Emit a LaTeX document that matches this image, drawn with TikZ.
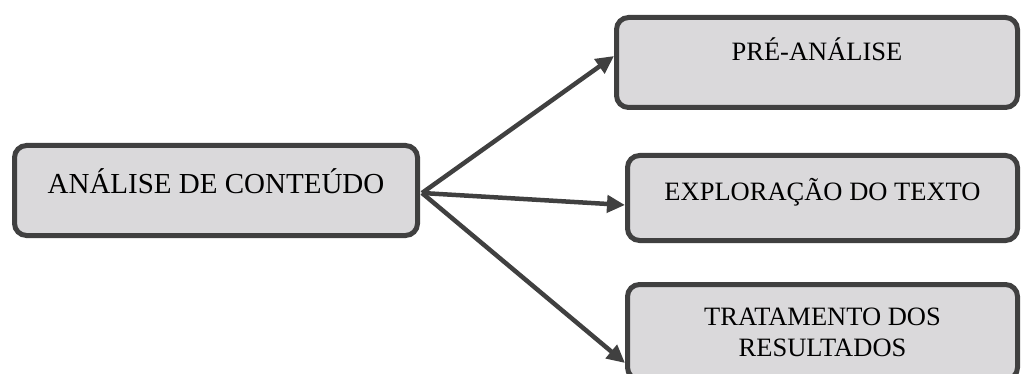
\documentclass[tikz,border=0pt]{standalone}
\usepackage{fontspec}
\setmainfont{Liberation Serif}
\usetikzlibrary{arrows.meta}
\definecolor{stageline}{HTML}{404040}
\definecolor{stagefill}{HTML}{DAD9DB}

\begin{document}
\begin{tikzpicture}[x=1pt,y=-1pt]
  \tikzset{StageBox/.style = {
      shape = rectangle,
      rounded corners = 12pt,
      draw = stageline,
      fill = stagefill,
      line width = 5pt,
      inner sep = 0pt,
      align = center,
      font = \fontsize{26.5}{31}\selectfont},
    StageArrow/.style = {
      draw = stageline,
      line width = 4.5pt,
      -{Triangle[length=18pt,width=17pt]}}}
  \useasboundingbox (0,0) rectangle (1022,374);
  %% main box
  \node[StageBox,minimum width=403pt,minimum height=90pt,
    text height=15.6pt,text depth=10pt,
    font=\fontsize{29}{34}\selectfont] (main) at (216,190.5)
    {ANÁLISE DE CONTEÚDO};
  %% stages
  \node[StageBox,minimum width=401pt,minimum height=90pt,
    text height=10.6pt,text depth=14pt] (pre) at (817,62.5)
    {PRÉ-ANÁLISE};
  \node[StageBox,minimum width=390pt,minimum height=85pt,
    text height=15.6pt,text depth=10pt] (expl) at (822.5,198)
    {EXPLORAÇÃO DO TEXTO};
  \node[StageBox,minimum width=390pt,minimum height=95pt] (trat) at (822.5,332)
    {TRATAMENTO DOS\\RESULTADOS};
  %% arrows
  \coordinate (hub) at ([xshift=2pt,yshift=-2.5pt]main.east);
  \draw[StageArrow] (hub) -- ([yshift=6.5pt]pre.west);
  \draw[StageArrow] (hub) -- ([yshift=-7pt]expl.west);
  \draw[StageArrow] (hub) -- ([yshift=-31pt]trat.west);
\end{tikzpicture}
\end{document}
